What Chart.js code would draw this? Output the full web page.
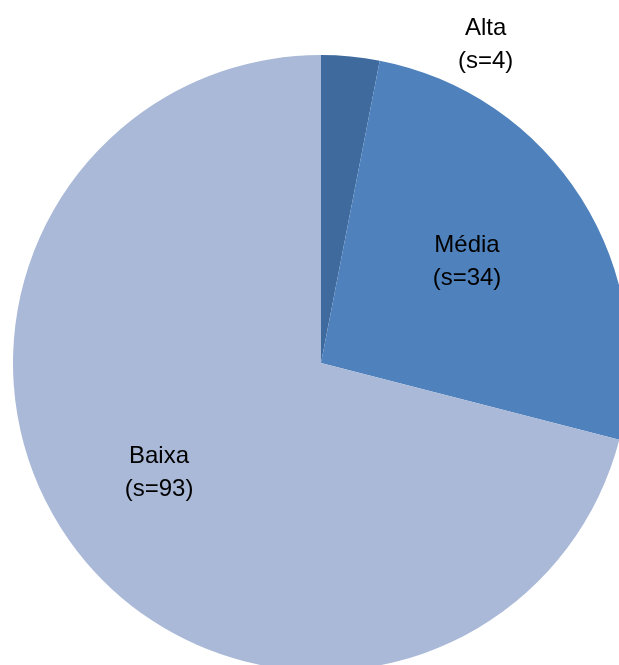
<!DOCTYPE html>
<html lang="pt">
  <head>
    <meta charset="UTF-8" />
    <title>Distribuição por classe</title>
    <script src="https://cdn.jsdelivr.net/npm/chart.js"></script>
    <style>
      html,
      body {
        margin: 0;
        padding: 0;
        background-color: #ffffff;
        overflow: hidden;
        width: 619px;
        height: 665px;
      }
      #grafico {
        position: absolute;
        left: 0;
        top: 0;
      }
    </style>
  </head>
  <body>
    <canvas id="grafico" width="642" height="726"></canvas>

    <script>
      const classes = ["Alta", "Média", "Baixa"];
      const valores = [4, 34, 93];
      const cores = ["#3F6A9E", "#4F81BD", "#AAB9D7"];

      // posição de cada rótulo: fração do raio e desvio angular (graus)
      const posRotulos = [
        { r: 1.166, da: 21.8 },
        { r: 0.58, da: -2.9 },
        { r: 0.632, da: 4.1 },
      ];

      const rotulosPlugin = {
        id: "rotulos",
        afterDatasetsDraw(chart) {
          const ctx = chart.ctx;
          const meta = chart.getDatasetMeta(0);
          ctx.save();
          ctx.font = "24px 'Liberation Sans', Arial, sans-serif";
          ctx.fillStyle = "#000000";
          ctx.textAlign = "center";
          ctx.textBaseline = "middle";
          meta.data.forEach((arc, i) => {
            const p = arc.getProps(["x", "y", "startAngle", "endAngle", "outerRadius"], true);
            const meio = (p.startAngle + p.endAngle) / 2 + (posRotulos[i].da * Math.PI) / 180;
            const d = p.outerRadius * posRotulos[i].r;
            const x = p.x + Math.cos(meio) * d;
            const y = p.y + Math.sin(meio) * d;
            ctx.fillText(classes[i], x, y - 15);
            ctx.fillText("(s=" + valores[i] + ")", x, y + 18);
          });
          ctx.restore();
        },
      };

      new Chart(document.getElementById("grafico"), {
        type: "pie",
        data: {
          labels: classes,
          datasets: [
            {
              data: valores,
              backgroundColor: cores,
              borderWidth: 0,
              hoverOffset: 0,
              offset: 0,
            },
          ],
        },
        options: {
          responsive: false,
          devicePixelRatio: 1,
          animation: false,
          layout: { padding: { left: 13, right: 13, top: 55, bottom: 55 } },
          plugins: {
            legend: { display: false },
            tooltip: { enabled: false },
          },
        },
        plugins: [rotulosPlugin],
      });
    </script>
  </body>
</html>
